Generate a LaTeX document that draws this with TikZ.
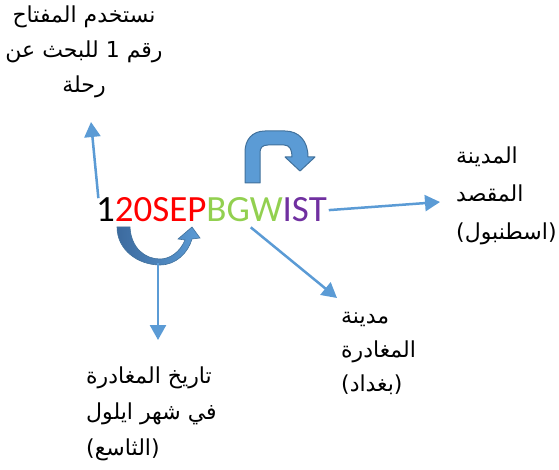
\documentclass[tikz,border=0pt]{standalone}
\usepackage{fontspec}
\usetikzlibrary{arrows.meta}
\TeXXeTstate=1
\newfontfamily\codefont{Carlito}
\newfontfamily\arabicfont[Script=Arabic]{DejaVu Sans}
\definecolor{linkblue}{HTML}{5B9BD5}
\definecolor{edgeblue}{HTML}{41719C}
\definecolor{darkturn}{HTML}{3C6A9E}
\definecolor{codered}{HTML}{FF0000}
\definecolor{codegreen}{HTML}{92D050}
\definecolor{codepurple}{HTML}{7030A0}
\tikzstyle{code}=[inner sep=0, outer sep=0, anchor=base west, font=\codefont\fontsize{37}{40}\selectfont]
\tikzstyle{note}=[inner sep=0, font=\arabicfont\fontsize{22}{35}\selectfont]
\tikzstyle{link}=[draw=linkblue, line width=2.5pt, -{Triangle[length=15pt, width=16pt]}]
\tikzstyle{block arrow}=[fill=linkblue, draw=edgeblue, line width=1pt, line join=round]

\begin{document}
\begin{tikzpicture}[x=1pt, y=-1pt]
      \useasboundingbox (0,0) rectangle (559,470);
      % flight code
      \node[code] (one) at (96,222) {1};
      \node[code, text=codered] (date) at (one.base east) {20SEP};
      \node[code, text=codegreen] (from) at (date.base east) {BGW};
      \node[code, text=codepurple] (to) at (from.base east) {IST};
      % notes
      \node[note, align=center, anchor=north] (key) at (84,6)
        {\beginR نستخدم المفتاح\endR\\\beginR رقم 1 للبحث عن\endR\\\beginR رحلة\endR};
      \node[note, align=left, anchor=north west, font=\arabicfont\fontsize{22}{38}\selectfont] (dest) at (456,147)
        {\beginR المدينة\endR\\\beginR المقصد\endR\\\beginR (اسطنبول)\endR};
      \node[note, align=left, anchor=north west, font=\arabicfont\fontsize{22}{34}\selectfont] (origin) at (341,312)
        {\beginR مدينة\endR\\\beginR المغادرة\endR\\\beginR (بغداد)\endR};
      \node[note, align=left, anchor=north west, font=\arabicfont\fontsize{22}{36}\selectfont] (when) at (86,367)
        {\beginR تاريخ المغادرة\endR\\\beginR في شهر ايلول\endR\\\beginR (الثاسع)\endR};
      % block arrows
      \draw[block arrow] (245,183) -- (245,152)
        .. controls (245,140) and (252,131) .. (265,131) -- (285,131)
        .. controls (299,131) and (308,141) .. (308,157) -- (315,157) -- (300,171)
        -- (285,157) -- (292,157) .. controls (292,150) and (290,145) .. (284,145)
        -- (268,145) .. controls (262,145) and (260,148) .. (260,153) -- (260,183) -- cycle;
      \draw[draw=edgeblue, line width=0.6pt, left color=darkturn, right color=linkblue] (117,227)
        .. controls (117,250) and (138,265) .. (160,265)
        .. controls (176,265) and (188,253) .. (192,239) -- (200,238) -- (192,227)
        -- (178,239) -- (185,240) .. controls (180,252) and (170,259) .. (160,259)
        .. controls (145,259) and (131,248) .. (130,227) -- cycle;
      \coordinate (turn) at (158,263);
      % connectors
      \coordinate (keytip) at (91,122);
      \coordinate (desttip) at (440,202);
      \coordinate (origintip) at (337,298);
      \coordinate (whentip) at (158,340);
      \draw[link] ([xshift=-7pt]one.north) -- (keytip);
      \draw[link] (turn) -- (whentip);
      \draw[link] ([xshift=2pt]to.east) -- (desttip);
      \draw[link, shorten <=8pt] (from.south) -- (origintip);
    \end{tikzpicture}
\end{document}
